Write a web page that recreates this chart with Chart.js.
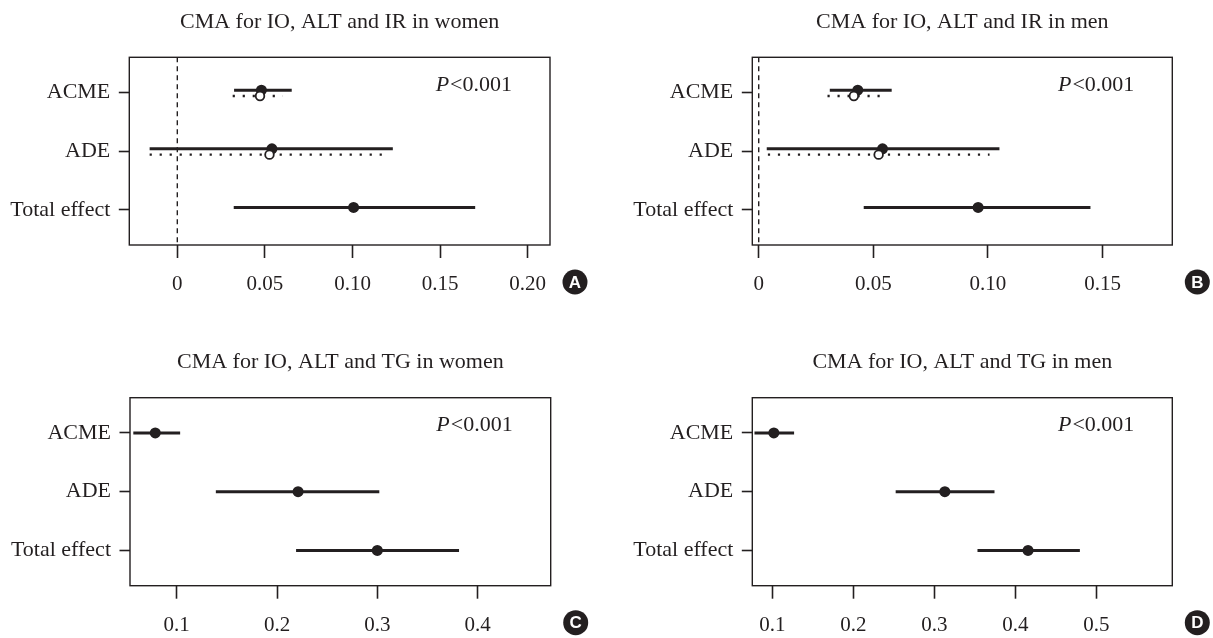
<!DOCTYPE html>
<html>
<head>
<meta charset="utf-8">
<script src="https://cdn.jsdelivr.net/npm/chart.js@4.4.0/dist/chart.umd.min.js"></script>
<style>
  body { margin: 0; background: #fff; width: 1213px; height: 638px; position: relative; overflow: hidden; }
  canvas { position: absolute; }
</style>
</head>
<body>
<canvas id="chart-a" width="606" height="319" style="left:0;top:0"></canvas>
<canvas id="chart-b" width="607" height="319" style="left:606px;top:0"></canvas>
<canvas id="chart-c" width="606" height="319" style="left:0;top:319px"></canvas>
<canvas id="chart-d" width="607" height="319" style="left:606px;top:319px"></canvas>
<script>
var effects = ['ACME', 'ADE', 'Total effect'];

// A - IO, ALT and IR in women (filled = solid CI, open = dotted CI)
var irWomenEst = [0.048, 0.054, 0.1006];
var irWomenLow = [0.0324, -0.0158, 0.0322];
var irWomenHigh = [0.0653, 0.123, 0.170];
var irWomenEstOpen = [0.0472, 0.0526];
var irWomenLowOpen = [0.0316, -0.0158];
var irWomenHighOpen = [0.0602, 0.119];
var irWomenTicks = [0, 0.05, 0.10, 0.15, 0.20];
var irWomenTickLabels = ['0', '0.05', '0.10', '0.15', '0.20'];

// B - IO, ALT and IR in men
var irMenEst = [0.0432, 0.054, 0.0957];
var irMenLow = [0.031, 0.0035, 0.0458];
var irMenHigh = [0.058, 0.105, 0.1447];
var irMenEstOpen = [0.0415, 0.0523];
var irMenLowOpen = [0.030, 0.004];
var irMenHighOpen = [0.056, 0.1007];
var irMenTicks = [0, 0.05, 0.10, 0.15];
var irMenTickLabels = ['0', '0.05', '0.10', '0.15'];

// C - IO, ALT and TG in women
var tgWomenEst = [0.0786, 0.221, 0.300];
var tgWomenLow = [0.0567, 0.139, 0.219];
var tgWomenHigh = [0.1034, 0.302, 0.3815];
var tgWomenTicks = [0.1, 0.2, 0.3, 0.4];
var tgWomenTickLabels = ['0.1', '0.2', '0.3', '0.4'];

// D - IO, ALT and TG in men
var tgMenEst = [0.1019, 0.313, 0.4157];
var tgMenLow = [0.078, 0.2523, 0.3533];
var tgMenHigh = [0.1269, 0.3743, 0.4797];
var tgMenTicks = [0.1, 0.2, 0.3, 0.4, 0.5];
var tgMenTickLabels = ['0.1', '0.2', '0.3', '0.4', '0.5'];

var ink = '#231f20';
var serif = '"Liberation Serif", "Times New Roman", serif';
Chart.defaults.font.family = serif;
Chart.defaults.color = ink;

var panels = [
  { id: 'chart-a', title: 'CMA for IO, ALT and IR in women', letter: 'A',
    est: irWomenEst, low: irWomenLow, high: irWomenHigh,
    estOpen: irWomenEstOpen, lowOpen: irWomenLowOpen, highOpen: irWomenHighOpen,
    ticks: irWomenTicks, tickLabels: irWomenTickLabels, xMin: -0.0274, xMax: 0.2127,
    yWidth: 129.3, xHeight: 74, padTop: 57.3, padRight: 56 },
  { id: 'chart-b', title: 'CMA for IO, ALT and IR in men', letter: 'B',
    est: irMenEst, low: irMenLow, high: irMenHigh,
    estOpen: irMenEstOpen, lowOpen: irMenLowOpen, highOpen: irMenHighOpen,
    ticks: irMenTicks, tickLabels: irMenTickLabels, xMin: -0.0028, xMax: 0.1804,
    yWidth: 146.3, xHeight: 74, padTop: 57.3, padRight: 40.7 },
  { id: 'chart-c', title: 'CMA for IO, ALT and TG in women', letter: 'C',
    est: tgWomenEst, low: tgWomenLow, high: tgWomenHigh,
    ticks: tgWomenTicks, tickLabels: tgWomenTickLabels, xMin: 0.0534, xMax: 0.4729,
    yWidth: 130, xHeight: 52.3, padTop: 78.7, padRight: 55.3 },
  { id: 'chart-d', title: 'CMA for IO, ALT and TG in men', letter: 'D',
    est: tgMenEst, low: tgMenLow, high: tgMenHigh,
    ticks: tgMenTicks, tickLabels: tgMenTickLabels, xMin: 0.0753, xMax: 0.5938,
    yWidth: 146.3, xHeight: 52.3, padTop: 78.7, padRight: 40.7 }
];

// frame, title, p-value and panel letter
var decor = {
  id: 'decor',
  afterDraw: function (chart, args, opts) {
    var a = chart.chartArea, c = chart.ctx;
    c.save();
    c.strokeStyle = ink;
    c.lineWidth = 1.4;
    c.strokeRect(a.left, a.top, a.right - a.left, a.bottom - a.top);

    c.fillStyle = ink;
    c.textBaseline = 'middle';
    c.font = '22px ' + serif;
    c.textAlign = 'center';
    c.fillText(opts.title, (a.left + a.right) / 2, a.top - 35);

    var right = a.right - 38;
    c.textAlign = 'right';
    c.fillText('<0.001', right, a.top + 28);
    var w = c.measureText('<0.001').width;
    c.font = 'italic 22px ' + serif;
    c.fillText('P', right - w - 1, a.top + 28);

    c.beginPath();
    c.arc(a.right + 25, a.bottom + 37, 12.5, 0, Math.PI * 2);
    c.fill();
    c.fillStyle = '#fff';
    c.textAlign = 'center';
    c.font = 'bold 17px "Liberation Sans", Arial, sans-serif';
    c.fillText(opts.letter, a.right + 25, a.bottom + 38);
    c.restore();
  }
};

function segments(low, high, shift, dash, width, order) {
  return low.map(function (lo, i) {
    return {
      type: 'line', showLine: true, order: order,
      data: [{ x: lo, y: i + 1 + shift }, { x: high[i], y: i + 1 + shift }],
      borderColor: ink, borderWidth: width, borderDash: dash, borderCapStyle: 'butt',
      pointRadius: 0
    };
  });
}

panels.forEach(function (p) {
  var twoGroups = !!p.estOpen;
  var solidShift = twoGroups ? -0.04 : 0;
  var dottedShift = 0.06;
  var datasets = [];

  datasets.push({
    type: 'scatter', order: 1,
    data: p.est.map(function (v, i) { return { x: v, y: i + 1 + solidShift }; }),
    pointRadius: 5.5, pointBackgroundColor: ink, pointBorderColor: ink, pointBorderWidth: 0
  });
  if (twoGroups) {
    datasets.push({
      type: 'scatter', order: 0,
      data: p.estOpen.map(function (v, i) { return { x: v, y: i + 1 + dottedShift }; }),
      pointRadius: 4.3, pointBackgroundColor: '#fff', pointBorderColor: ink, pointBorderWidth: 1.8
    });
    datasets = datasets.concat(segments(p.lowOpen, p.highOpen, dottedShift, [2.2, 7.8], 2.4, 2));
    datasets.push({
      type: 'line', showLine: true, order: 4,
      data: [{ x: 0, y: 0.4 }, { x: 0, y: 3.6 }],
      borderColor: ink, borderWidth: 1.4, borderDash: [5, 4], pointRadius: 0
    });
  }
  datasets = datasets.concat(segments(p.low, p.high, solidShift, [], 3, 3));

  new Chart(document.getElementById(p.id), {
    type: 'scatter',
    data: { datasets: datasets },
    options: {
      responsive: false,
      animation: false,
      layout: { padding: { top: p.padTop, right: p.padRight, left: 0, bottom: 0 } },
      plugins: {
        legend: { display: false },
        tooltip: { enabled: false },
        decor: { title: p.title, letter: p.letter }
      },
      scales: {
        x: {
          type: 'linear', min: p.xMin, max: p.xMax,
          afterBuildTicks: function (s) { s.ticks = p.ticks.map(function (v) { return { value: v }; }); },
          afterFit: function (s) { s.height = p.xHeight; },
          ticks: {
            callback: function (v, i) { return p.tickLabels[i]; },
            font: { size: 21 }, color: ink, padding: 14, maxRotation: 0, autoSkip: false
          },
          grid: { drawOnChartArea: false, tickLength: 13, tickColor: ink, tickWidth: 1.6 },
          border: { display: false }
        },
        y: {
          type: 'linear', reverse: true, min: 0.4, max: 3.6,
          afterBuildTicks: function (s) { s.ticks = effects.map(function (e, i) { return { value: i + 1 }; }); },
          afterFit: function (s) { s.width = p.yWidth; },
          ticks: {
            callback: function (v, i) { return effects[i]; },
            font: { size: 22 }, color: ink, padding: 8.5, autoSkip: false
          },
          grid: { drawOnChartArea: false, tickLength: 10.5, tickColor: ink, tickWidth: 1.6 },
          border: { display: false }
        }
      }
    },
    plugins: [decor]
  });
});
</script>
</body>
</html>
